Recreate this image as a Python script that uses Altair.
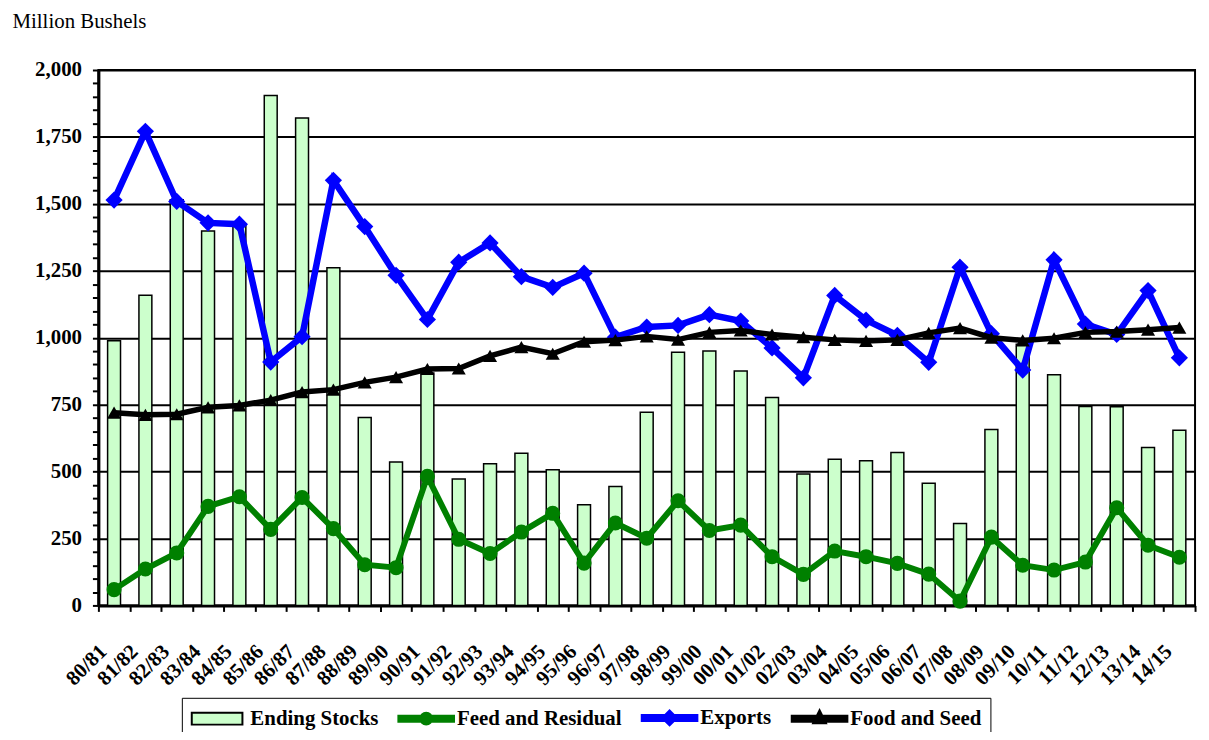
import altair as alt
import pandas as pd

# Marketing years on the x axis
years = [
    "80/81", "81/82", "82/83", "83/84", "84/85", "85/86", "86/87", "87/88",
    "88/89", "89/90", "90/91", "91/92", "92/93", "93/94", "94/95", "95/96",
    "96/97", "97/98", "98/99", "99/00", "00/01", "01/02", "02/03", "03/04",
    "04/05", "05/06", "06/07", "07/08", "08/09", "09/10", "10/11", "11/12",
    "12/13", "13/14", "14/15",
]

# Million bushels
ending_stocks = [989, 1159, 1515, 1399, 1425, 1905, 1821, 1261, 702, 536,
                 868, 472, 529, 568, 507, 376, 444, 722, 946, 950,
                 876, 777, 491, 546, 540, 571, 456, 306, 657, 976,
                 862, 743, 742, 590, 654]
feed_residual = [59, 136, 196, 370, 406, 284, 403, 287, 152, 141,
                 482, 247, 194, 274, 344, 158, 308, 251, 391, 280,
                 300, 182, 116, 203, 182, 157, 117, 16, 255, 150,
                 132, 162, 365, 225, 180]
exports = [1514, 1771, 1509, 1429, 1424, 909, 1004, 1588, 1415, 1233,
           1068, 1282, 1354, 1228, 1188, 1241, 1002, 1040, 1046, 1086,
           1062, 962, 850, 1158, 1066, 1009, 908, 1263, 1015, 879,
           1291, 1051, 1012, 1176, 925]
food_seed = [720, 712, 714, 740, 747, 767, 797, 806, 833, 853,
             883, 885, 932, 965, 940, 985, 991, 1005, 993, 1020,
             1027, 1012, 1002, 992, 988, 992, 1018, 1036, 1000, 990,
             998, 1020, 1023, 1030, 1038]

series_names = ["Ending Stocks", "Feed and Residual", "Exports", "Food and Seed"]
fill_colors = ["#CCFFCC", "#008000", "#0000FF", "#000000"]
stroke_colors = ["#000000", "#008000", "#0000FF", "#000000"]

# legend symbols (unit = 10px): a box for the bars, a line with its marker for the lines
legend_shapes = [
    "M-1,-0.6H4.1V0.6H-1Z",
    "M-1,-0.3H4.6V0.3H-1Z M1.2,0A0.6,0.6,0,1,1,2.4,0A0.6,0.6,0,1,1,1.2,0Z",
    "M-1,-0.3H4.6V0.3H-1Z M1.8,-0.75L2.55,0L1.8,0.75L1.05,0Z",
    "M-1,-0.3H4.6V0.3H-1Z M1.8,-0.85L2.45,0.45L1.15,0.45Z",
]

FONT = "Liberation Serif"

bars_df = pd.DataFrame({"year": years, "value": ending_stocks})
lines_df = pd.concat([
    pd.DataFrame({"year": years, "value": vals, "series": name})
    for name, vals in zip(series_names, [ending_stocks, feed_residual, exports, food_seed])
])

x_enc = alt.X(
    "year:N", sort=years, title=None,
    scale=alt.Scale(paddingInner=0, paddingOuter=0),
    axis=alt.Axis(
        labelAngle=-45, labelAlign="right", labelBaseline="middle",
        labelPadding=37, labelOffset=-11, labelFont=FONT, labelFontWeight="bold",
        labelFontSize=21, labelColor="black",
        tickBand="extent", tickSize=6, tickWidth=2, tickColor="black",
        domainColor="black", domainWidth=3, grid=False,
    ),
)

y_enc = alt.Y(
    "value:Q",
    scale=alt.Scale(domain=[0, 2000], nice=False),
    axis=alt.Axis(
        values=list(range(0, 2001, 50)),
        labelExpr="datum.value % 250 === 0 ? format(datum.value, ',') : ''",
        labelOverlap=False, labelFont=FONT, labelFontWeight="bold",
        labelFontSize=21, labelColor="black", labelPadding=11,
        tickSize=6, tickWidth=2, tickColor="black",
        domainColor="black", domainWidth=3,
        grid=True, gridColor="black", gridWidth=2,
        gridOpacity={"condition": {"test": "datum.value % 250 === 0", "value": 1}, "value": 0},
        title="Million Bushels", titleAngle=0, titleAlign="left",
        titleBaseline="alphabetic", titleX=-87, titleY=-43,
        titleFont=FONT, titleFontWeight="normal", titleFontSize=21,
        titleColor="black",
    ),
)

bars = alt.Chart(bars_df).mark_bar(
    size=13, fill="#CCFFCC", stroke="black", strokeWidth=1.5
).encode(x=x_enc, y=y_enc)

layers = [bars]
line_styles = [
    ("Feed and Residual", "#008000", "circle", 230, 6),
    ("Exports", "#0000FF", "diamond", 300, 6.5),
    ("Food and Seed", "#000000", "triangle-up", 200, 5.5),
]
for name, color, shape, size, width in line_styles:
    base = alt.Chart(lines_df).transform_filter(alt.datum.series == name)
    layers.append(base.mark_line(color=color, strokeWidth=width).encode(x=x_enc, y=y_enc))
    layers.append(base.mark_point(filled=True, opacity=1, color=color, shape=shape, size=size)
                  .encode(x=x_enc, y=y_enc))

# invisible layer that only carries the combined legend
legend = alt.Legend(
    title=None, orient="none", legendX=84, legendY=632,
    direction="horizontal", columns=4,
)
legend_layer = alt.Chart(lines_df).mark_point(filled=True, opacity=0).encode(
    x=x_enc, y=y_enc,
    fill=alt.Fill("series:N", scale=alt.Scale(domain=series_names, range=fill_colors), legend=legend),
    stroke=alt.Stroke("series:N", scale=alt.Scale(domain=series_names, range=stroke_colors), legend=legend),
    shape=alt.Shape("series:N", scale=alt.Scale(domain=series_names, range=legend_shapes), legend=legend),
)
layers.append(legend_layer)

chart = alt.layer(*layers).properties(
    width=1104, height=539,
    autosize=alt.AutoSizeParams(type="none"),
    padding={"left": 91, "top": 60, "right": 6, "bottom": 125},
    background="white",
).configure_view(
    stroke="black", strokeWidth=2
).configure_legend(
    columnPadding=16, symbolSize=400, symbolStrokeWidth=2, symbolOpacity=1,
    labelOffset=38, labelFont=FONT, labelFontWeight="bold", labelFontSize=21,
    labelColor="black", labelLimit=300, strokeColor="black", padding=9,
)

chart.save("out.html", embed_options={"renderer": "svg", "actions": False})
